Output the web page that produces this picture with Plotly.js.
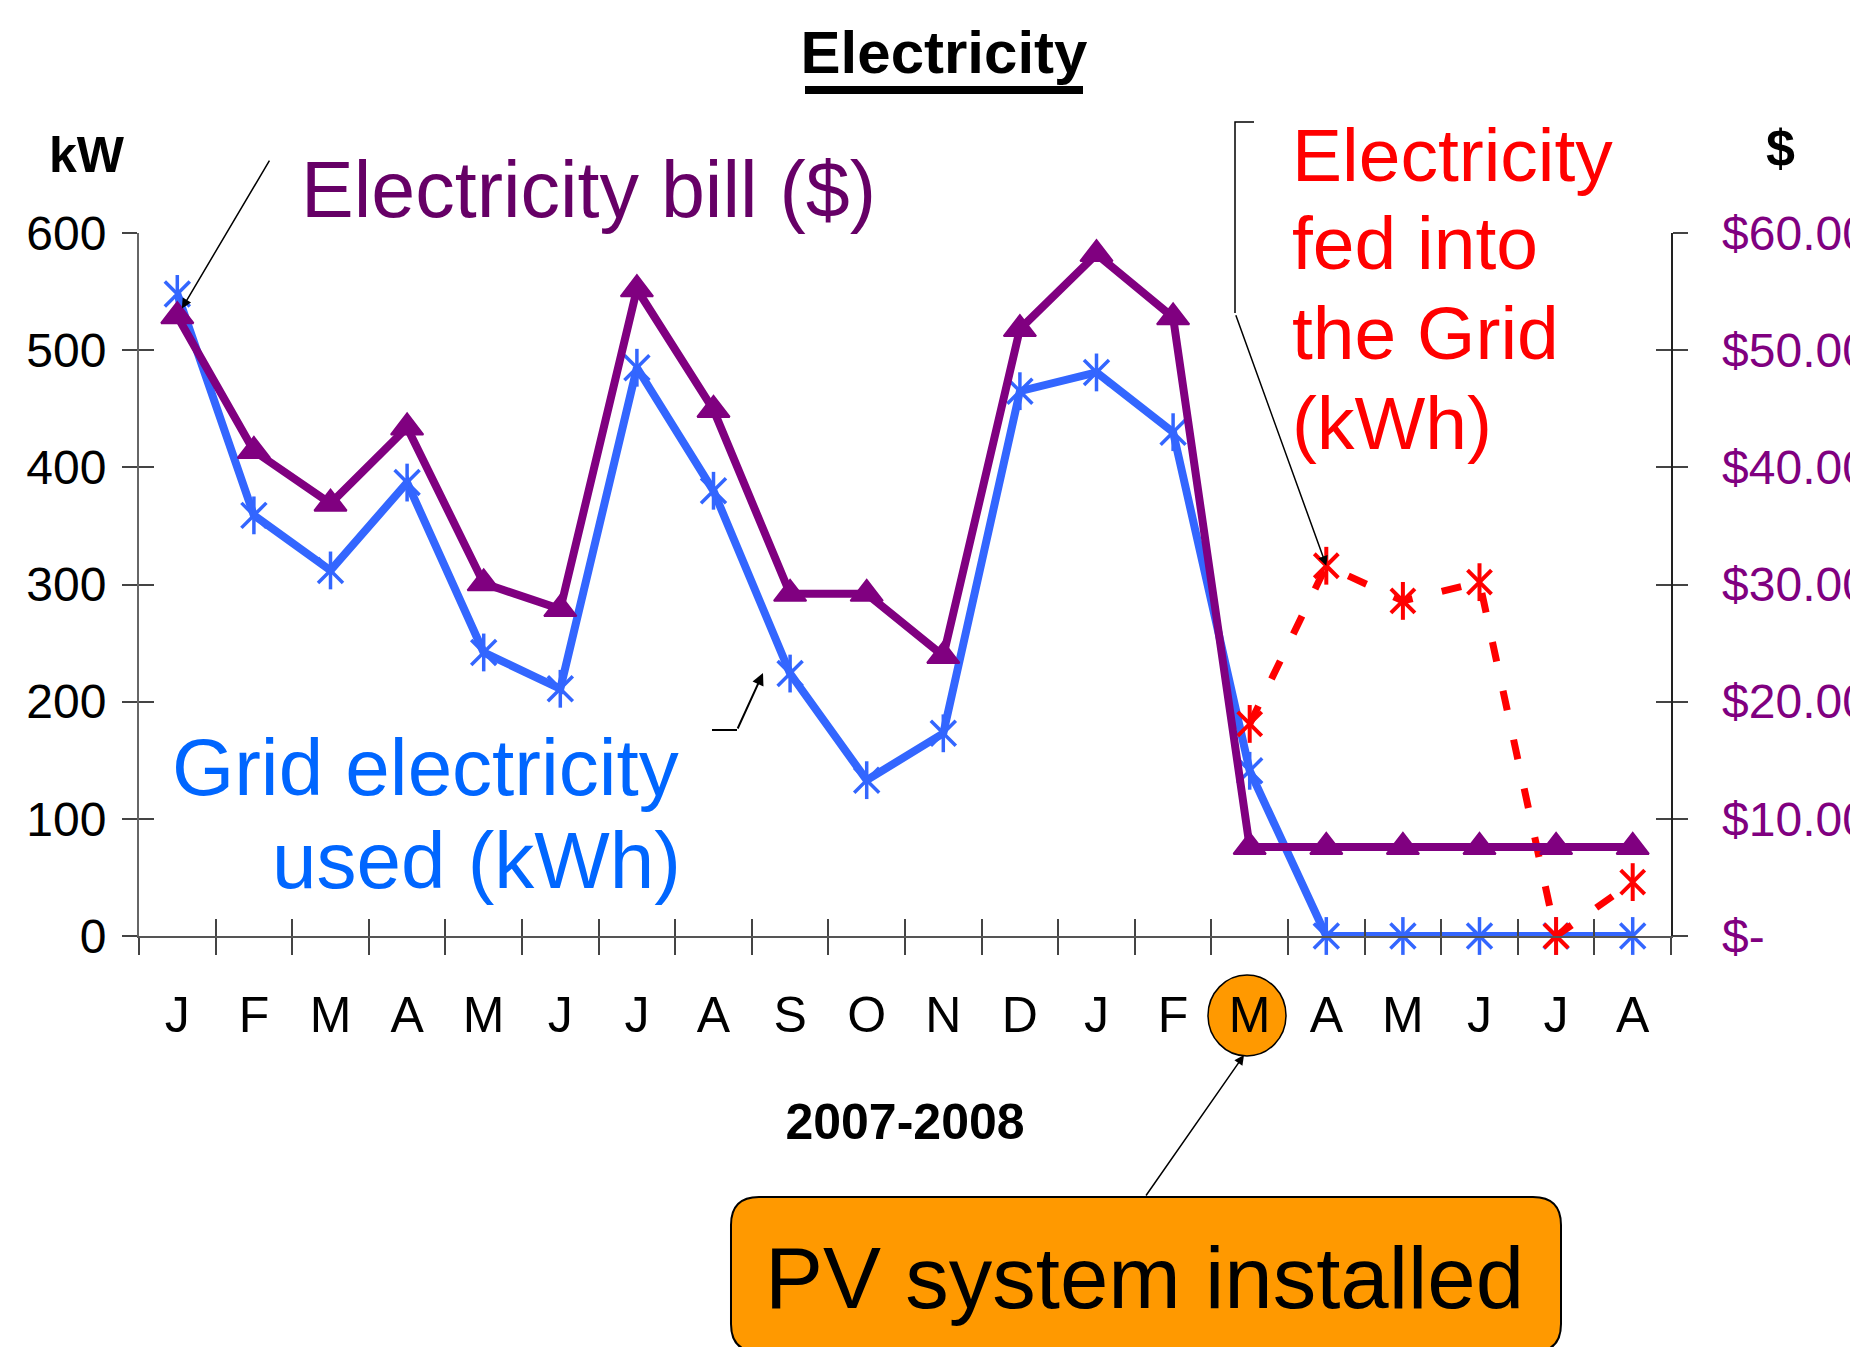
<!DOCTYPE html>
<html>
<head>
<meta charset="utf-8">
<script src="https://cdn.plot.ly/plotly-3.0.1.min.js"></script>
<style>html,body{margin:0;padding:0;background:#fff;}#chart{width:1850px;height:1347px;}</style>
</head>
<body>
<div id="chart"></div>
<script>
// ---- data ----
const months = ['J','F','M','A','M','J','J','A','S','O','N','D','J','F','M','A','M','J','J','A'];
const gridUsedKWh = [548, 359, 312, 387, 242, 211, 485, 380, 224, 133, 173, 465, 481, 430, 141, 0, 0, 0, 0, 0];
const billDollars = [52.9, 41.4, 36.9, 43.4, 30.1, 27.9, 55.2, 44.9, 29.2, 29.2, 23.9, 51.8, 58.2, 52.8, 7.6, 7.6, 7.6, 7.6, 7.6, 7.6];
const fedIntoGridKWh = [null, null, null, null, null, null, null, null, null, null, null, null, null, null, 181, 316, 286, 302, 0, 46];
const kwTicks = [0, 100, 200, 300, 400, 500, 600];
const dollarTicks = [0, 10, 20, 30, 40, 50, 60];
const dollarTickText = ['$-', '$10.00', '$20.00', '$30.00', '$40.00', '$50.00', '$60.00'];

// ---- styling ----
const W = 1850, H = 1347;
const L = 139, R = 1671, T = 233, B = 936;
const px = x => (x - L) / (R - L);
const py = y => (B - y) / (B - T);
const NARROW = '"Liberation Sans Narrow", "Arial Narrow", "Liberation Sans", Arial, sans-serif';
const SANS = '"Liberation Sans", Arial, sans-serif';
const BLUE = '#3366FF', PURPLE = '#800080', RED = '#FF0000';
const idx = months.map((m, i) => i);
const bounds = months.map((m, i) => i - 0.5).concat([months.length - 0.5]);

const traces = [
  // Grid electricity used (kWh)
  {x: idx, y: gridUsedKWh, type: 'scatter', mode: 'lines+markers', name: 'Grid electricity used (kWh)', cliponaxis: false,
   line: {color: BLUE, width: 8}, marker: {symbol: 'x-thin-open', size: 25, color: BLUE, line: {width: 3.5, color: BLUE}},
   xaxis: 'x', yaxis: 'y', hoverinfo: 'skip'},
  {x: idx, y: gridUsedKWh, type: 'scatter', mode: 'markers', showlegend: false, cliponaxis: false,
   marker: {symbol: 'line-ns-open', size: 27, color: BLUE, line: {width: 3.5, color: BLUE}},
   xaxis: 'x', yaxis: 'y', hoverinfo: 'skip'},
  // Electricity fed into the grid (kWh)
  {x: idx, y: fedIntoGridKWh, type: 'scatter', mode: 'lines+markers', name: 'Electricity fed into the Grid (kWh)', cliponaxis: false,
   line: {color: RED, width: 7, dash: '20px,30px'}, marker: {symbol: 'x-thin-open', size: 24, color: RED, line: {width: 4, color: RED}},
   xaxis: 'x', yaxis: 'y', hoverinfo: 'skip'},
  {x: idx, y: fedIntoGridKWh, type: 'scatter', mode: 'markers', showlegend: false, cliponaxis: false,
   marker: {symbol: 'line-ns-open', size: 27, color: RED, line: {width: 4, color: RED}},
   xaxis: 'x', yaxis: 'y', hoverinfo: 'skip'},
  // Electricity bill ($)
  {x: idx, y: billDollars, type: 'scatter', mode: 'lines+markers', name: 'Electricity bill ($)', cliponaxis: false,
   line: {color: PURPLE, width: 8}, marker: {symbol: 'triangle-up', size: 28, color: PURPLE, line: {width: 2, color: PURPLE}},
   xaxis: 'x', yaxis: 'y2', hoverinfo: 'skip'},
  // empty helpers so that the overlay (cross-tick) axes are drawn
  {x: [], y: [], type: 'scatter', mode: 'markers', xaxis: 'x2', yaxis: 'y', showlegend: false, hoverinfo: 'skip'},
  {x: [], y: [], type: 'scatter', mode: 'markers', xaxis: 'x', yaxis: 'y3', showlegend: false, hoverinfo: 'skip'},
  {x: [], y: [], type: 'scatter', mode: 'markers', xaxis: 'x', yaxis: 'y4', showlegend: false, hoverinfo: 'skip'}
];

function roundRectPath(l, t, r, b, rad) {
  const P = (x, y) => px(x).toFixed(5) + ',' + py(y).toFixed(5);
  return 'M' + P(l + rad, t) + ' L' + P(r - rad, t) + ' Q' + P(r, t) + ' ' + P(r, t + rad) +
         ' L' + P(r, b - rad) + ' Q' + P(r, b) + ' ' + P(r - rad, b) +
         ' L' + P(l + rad, b) + ' Q' + P(l, b) + ' ' + P(l, b - rad) +
         ' L' + P(l, t + rad) + ' Q' + P(l, t) + ' ' + P(l + rad, t) + ' Z';
}

const tickCol = '#444';
const layout = {
  width: W, height: H,
  margin: {l: L, r: W - R, t: T, b: H - B, pad: 0},
  paper_bgcolor: '#fff', plot_bgcolor: 'rgba(0,0,0,0)',
  showlegend: false,
  title: {text: '<b>Electricity</b>', font: {family: NARROW, size: 60, color: '#000'},
          xref: 'container', yref: 'container', x: 944 / W, xanchor: 'center', y: 1 - 52 / H, yanchor: 'middle'},
  xaxis: {range: [-0.5, months.length - 0.5], tickmode: 'array', tickvals: idx, ticktext: months,
          ticks: '', showgrid: false, zeroline: false, showline: true, linecolor: '#555', linewidth: 2,
          tickfont: {family: NARROW, size: 50, color: '#000'}, ticklabelstandoff: 34,
          minor: {tickmode: 'linear', tick0: -0.5, dtick: 1, ticks: 'outside', ticklen: 17, tickwidth: 2, tickcolor: tickCol, showgrid: false},
          title: {text: '<b>2007-2008</b>', font: {family: NARROW, size: 50, color: '#000'}, standoff: 62},
          fixedrange: true},
  xaxis2: {overlaying: 'x', anchor: 'y', side: 'bottom', range: [-0.5, months.length - 0.5], tickmode: 'array', tickvals: bounds,
           ticks: 'inside', ticklen: 17, tickwidth: 2, tickcolor: tickCol, showticklabels: false,
           showline: false, showgrid: false, zeroline: false},
  yaxis: {range: [0, 600], tickmode: 'array', tickvals: kwTicks, ticks: 'outside', ticklen: 15, tickwidth: 2, tickcolor: tickCol,
          showline: true, linecolor: '#666', linewidth: 2, showgrid: false, zeroline: false,
          tickfont: {family: NARROW, size: 48, color: '#000'}, ticklabelstandoff: 6},
  yaxis3: {overlaying: 'y', anchor: 'x', side: 'left', range: [0, 600], tickmode: 'array', tickvals: kwTicks,
           ticks: 'inside', ticklen: 15, tickwidth: 2, tickcolor: tickCol, showticklabels: false,
           showline: false, showgrid: false, zeroline: false},
  yaxis2: {overlaying: 'y', anchor: 'x', side: 'right', range: [0, 60], tickmode: 'array', tickvals: dollarTicks, ticktext: dollarTickText,
           ticks: 'outside', ticklen: 15, tickwidth: 2, tickcolor: tickCol, showline: true, linecolor: '#222', linewidth: 1.5,
           showgrid: false, zeroline: false, tickfont: {family: NARROW, size: 48, color: PURPLE}, ticklabelstandoff: 25},
  yaxis4: {overlaying: 'y', anchor: 'x', side: 'right', range: [0, 60], tickmode: 'array', tickvals: dollarTicks,
           ticks: 'inside', ticklen: 15, tickwidth: 2, tickcolor: tickCol, showticklabels: false,
           showline: false, showgrid: false, zeroline: false},
  shapes: [
    // orange highlight behind the "M" tick label
    {type: 'circle', xref: 'paper', yref: 'paper', x0: px(1208), x1: px(1286), y0: py(1056), y1: py(975),
     fillcolor: '#FF9900', line: {color: '#000', width: 1.5}, layer: 'below'},
    // title underline
    {type: 'rect', xref: 'paper', yref: 'paper', x0: px(805), x1: px(1083), y0: py(94), y1: py(86),
     fillcolor: '#000', line: {width: 0}},
    // "PV system installed" rounded box
    {type: 'path', xref: 'paper', yref: 'paper', path: roundRectPath(731, 1197, 1561, 1352, 28),
     fillcolor: '#FF9900', line: {color: '#000', width: 2}},
    // elbow connectors
    {type: 'path', xref: 'paper', yref: 'paper',
     path: 'M' + px(1254) + ',' + py(122) + ' L' + px(1235) + ',' + py(122) + ' L' + px(1235) + ',' + py(313),
     line: {color: '#000', width: 1.5}},
    {type: 'path', xref: 'paper', yref: 'paper',
     path: 'M' + px(712) + ',' + py(730) + ' L' + px(737) + ',' + py(730),
     line: {color: '#000', width: 2}}
  ],
  annotations: [
    {text: '<b>kW</b>', xref: 'paper', yref: 'paper', x: px(87), y: py(155), xanchor: 'center', yanchor: 'middle',
     showarrow: false, font: {family: NARROW, size: 50, color: '#000'}},
    {text: '<b>$</b>', xref: 'paper', yref: 'paper', x: px(1780), y: py(148), xanchor: 'center', yanchor: 'middle',
     showarrow: false, font: {family: NARROW, size: 52, color: '#000'}},
    {text: 'Electricity bill ($)', xref: 'paper', yref: 'paper', x: px(299), y: py(190), xanchor: 'left', yanchor: 'middle',
     showarrow: false, font: {family: SANS, size: 79, color: '#660066'}},
    {text: 'Grid electricity', xref: 'paper', yref: 'paper', x: px(681), y: py(767), xanchor: 'right', yanchor: 'middle',
     showarrow: false, font: {family: SANS, size: 80, color: '#0066FF'}},
    {text: 'used (kWh)', xref: 'paper', yref: 'paper', x: px(683), y: py(860), xanchor: 'right', yanchor: 'middle',
     showarrow: false, font: {family: SANS, size: 80, color: '#0066FF'}},
    {text: 'Electricity', xref: 'paper', yref: 'paper', x: px(1290), y: py(155), xanchor: 'left', yanchor: 'middle',
     showarrow: false, font: {family: SANS, size: 75, color: RED}},
    {text: 'fed into', xref: 'paper', yref: 'paper', x: px(1290), y: py(243), xanchor: 'left', yanchor: 'middle',
     showarrow: false, font: {family: SANS, size: 75, color: RED}},
    {text: 'the Grid', xref: 'paper', yref: 'paper', x: px(1290), y: py(333), xanchor: 'left', yanchor: 'middle',
     showarrow: false, font: {family: SANS, size: 75, color: RED}},
    {text: '(kWh)', xref: 'paper', yref: 'paper', x: px(1290), y: py(423), xanchor: 'left', yanchor: 'middle',
     showarrow: false, font: {family: SANS, size: 75, color: RED}},
    {text: 'PV system installed', xref: 'paper', yref: 'paper', x: px(1144), y: py(1277), xanchor: 'center', yanchor: 'middle',
     showarrow: false, font: {family: SANS, size: 87, color: '#000'}},
    // arrows
    {text: '', xref: 'x', yref: 'y2', x: 0, y: billDollars[0], ax: 93, ay: -157, showarrow: true,
     arrowhead: 2, arrowsize: 1.3, arrowwidth: 1.5, arrowcolor: '#000', standoff: 9},
    {text: '', xref: 'x', yref: 'y', x: 15, y: fedIntoGridKWh[15], ax: -91, ay: -252, showarrow: true,
     arrowhead: 2, arrowsize: 1.3, arrowwidth: 1.5, arrowcolor: '#000', standoff: 0},
    {text: '', xref: 'paper', yref: 'paper', x: px(763), y: py(673), ax: -26, ay: 57, showarrow: true,
     arrowhead: 2, arrowsize: 1.2, arrowwidth: 2, arrowcolor: '#000', standoff: 0},
    {text: '', xref: 'paper', yref: 'paper', x: px(1244), y: py(1055), ax: -99, ay: 142, showarrow: true,
     arrowhead: 2, arrowsize: 1.3, arrowwidth: 1.5, arrowcolor: '#000', standoff: 0}
  ]
};

Plotly.newPlot('chart', traces, layout, {staticPlot: true, displayModeBar: false});
</script>
</body>
</html>
